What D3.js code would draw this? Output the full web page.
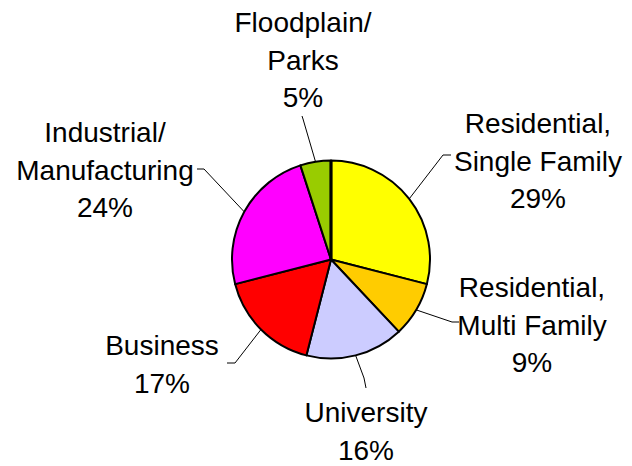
<!DOCTYPE html>
<html>
<head>
<meta charset="utf-8">
<script src="https://cdn.jsdelivr.net/npm/d3@7"></script>
<style>
  html, body { margin: 0; padding: 0; background: #fff; }
  svg { display: block; }
  text { font-family: Arial, "Liberation Sans", sans-serif; font-size: 28px; fill: #000; }
</style>
</head>
<body>
<svg id="chart"></svg>
<script>
// Land use shares, clockwise from 12 o'clock
const categories = [
  "Residential, Single Family",
  "Residential, Multi Family",
  "University",
  "Business",
  "Industrial/ Manufacturing",
  "Floodplain/ Parks",
];
const shares = [29, 9, 16, 17, 24, 5];
const labelLines = [
  ["Residential,", "Single Family"],
  ["Residential,", "Multi Family"],
  ["University"],
  ["Business"],
  ["Industrial/", "Manufacturing"],
  ["Floodplain/", "Parks"],
];
const sliceColors = ["#FFFF00", "#FFCC00", "#CCCCFF", "#FF0000", "#FF00FF", "#99CC00"];

// Canvas and pie geometry
const canvas = { width: 632, height: 466 };
const pieCenter = { x: 331, y: 259.5 };
const radius = 99;
const lineHeight = 37.5;

// Label placement: text center x, first baseline y, leader elbow and tick end
const labelLayout = [
  { x: 538, y: 133, elbow: [443, 155], tick: [451, 155] },
  { x: 532, y: 297, elbow: [452, 322], tick: [459, 322] },
  { x: 366, y: 422, elbow: [364, 378], tick: [366, 388] },
  { x: 162, y: 355, elbow: [235, 363], tick: [227, 363] },
  { x: 105, y: 142, elbow: [204, 169], tick: [197, 169] },
  { x: 303, y: 32, elbow: [303, 119], tick: [302, 116] },
];

const svg = d3.select("#chart")
  .attr("width", canvas.width)
  .attr("height", canvas.height);

const pie = d3.pie().sort(null).value((d) => d);
const arcs = pie(shares);

const arc = d3.arc().innerRadius(0).outerRadius(radius);
const edgeArc = d3.arc().innerRadius(radius).outerRadius(radius);

const g = svg.append("g")
  .attr("transform", `translate(${pieCenter.x},${pieCenter.y})`);

// Slices
g.selectAll("path.slice")
  .data(arcs)
  .enter()
  .append("path")
  .attr("class", "slice")
  .attr("d", arc)
  .attr("fill", (d, i) => sliceColors[i])
  .attr("stroke", "#000")
  .attr("stroke-width", 2)
  .attr("stroke-linejoin", "round");

// the seam at the start angle is drawn heavier in the original
const a0 = arcs[0].startAngle;
g.append("line")
  .attr("x1", 0)
  .attr("y1", 0)
  .attr("x2", radius * Math.sin(a0))
  .attr("y2", -radius * Math.cos(a0))
  .attr("stroke", "#000")
  .attr("stroke-width", 3.2);

// Leader lines
const leader = d3.line();
svg.selectAll("path.leader")
  .data(arcs)
  .enter()
  .append("path")
  .attr("class", "leader")
  .attr("fill", "none")
  .attr("stroke", "#000")
  .attr("stroke-width", 1)
  .attr("d", (d, i) => {
    const c = edgeArc.centroid(d);
    const start = [pieCenter.x + c[0], pieCenter.y + c[1]];
    return leader([start, labelLayout[i].elbow, labelLayout[i].tick]);
  });

// Labels
const labels = svg.selectAll("text.label")
  .data(arcs)
  .enter()
  .append("text")
  .attr("class", "label")
  .attr("text-anchor", "middle")
  .attr("x", (d, i) => labelLayout[i].x)
  .attr("y", (d, i) => labelLayout[i].y);

labels.each(function (d, i) {
  const t = d3.select(this);
  const lines = labelLines[i].concat([shares[i] + "%"]);
  lines.forEach((line, k) => {
    t.append("tspan")
      .attr("x", labelLayout[i].x)
      .attr("dy", k === 0 ? 0 : lineHeight)
      .text(line);
  });
});
</script>
</body>
</html>
